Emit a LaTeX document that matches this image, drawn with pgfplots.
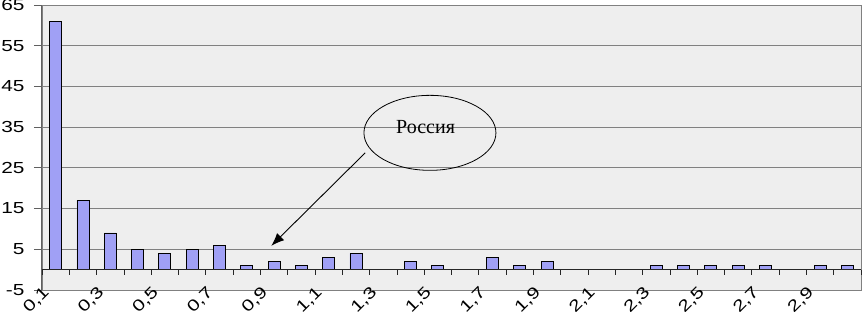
\documentclass[border=0pt]{standalone}
\usepackage{fontspec}
\setmainfont{Liberation Serif}
\newfontfamily\tickfont[FakeStretch=1.3]{Liberation Sans}
\usepackage{pgfplots}
\usepackage{pgfplotstable}
\pgfplotsset{compat=1.18}
\usetikzlibrary{arrows.meta}
\definecolor{barfill}{RGB}{160,160,245}
\definecolor{bg}{RGB}{238,238,238}
\definecolor{gridc}{RGB}{128,128,128}
\definecolor{axc}{RGB}{96,96,96}

\pgfplotstableread{
x y
0.5 61
1.5 17
2.5 9
3.5 5
4.5 4
5.5 5
6.5 6
7.5 1
8.5 2
9.5 1
10.5 3
11.5 4
12.5 0
13.5 2
14.5 1
15.5 0
16.5 3
17.5 1
18.5 2
19.5 0
20.5 0
21.5 0
22.5 1
23.5 1
24.5 1
25.5 1
26.5 1
27.5 0
28.5 1
29.5 1
}\data

\begin{document}
\begin{tikzpicture}
\begin{axis}[
  name=main,
  width=819pt, height=285pt, scale only axis,
  xmin=0, xmax=30, ymin=-5, ymax=65,
  axis background/.style={fill=bg},
  ytick={-5,5,...,65},
  ymajorgrids,
  major grid style={gridc, line width=0.8pt},
  xtick={0,2,...,28},
  xticklabels={{0,1},{0,3},{0,5},{0,7},{0,9},{1,1},{1,3},{1,5},{1,7},{1,9},{2,1},{2,3},{2,5},{2,7},{2,9}},
  x tick style={draw=none},
  xtick pos=bottom, ytick pos=left,
  ytick align=outside,
  y tick style={axc, line width=0.8pt},
  major tick length=8pt,
  xticklabel style={yshift=13pt, rotate=45, anchor=north east, inner sep=0pt},
  yticklabel style={xshift=-6pt},
  tick label style={font=\tickfont\fontsize{16}{18}\selectfont},
  /pgf/number format/assume math mode=true,
  axis line style={gridc, line width=0.8pt},
  ybar, bar width=12pt,
  clip=false,
]
\addplot[fill=barfill, draw=black, line width=0.8pt] table[x=x,y=y]{\data};
\coordinate (bbsw) at ([xshift=-42pt,yshift=-22pt]rel axis cs:0,0);
\coordinate (bbne) at ([xshift=2pt,yshift=5pt]rel axis cs:1,1);
\draw[axc, line width=1pt] (rel axis cs:0,0) -- (rel axis cs:0,1);
\draw[black, line width=0.8pt] (axis cs:14.21,33.6) ellipse [x radius=66pt, y radius=37.5pt];
\node[font=\fontsize{20}{23}\selectfont] at (axis cs:14.05,35.0) {Россия};
\draw[black, line width=0.9pt, -{Latex[length=13pt,width=10pt]}] (axis cs:11.84,28.7) -- (axis cs:8.40,5.85);
\end{axis}
\begin{axis}[
  width=819pt, height=285pt, scale only axis,
  xmin=0, xmax=30, ymin=-5, ymax=65,
  axis x line=middle, axis y line=none,
  xtick={0,1,...,30}, xticklabels={},
  ytick=\empty,
  x axis line style={-, black!85, line width=0.8pt},
  x tick style={black!85, line width=0.8pt},
  xtick align=outside,
  major tick length=5pt,
]
\end{axis}
\pgfresetboundingbox
\path[use as bounding box] (bbsw) rectangle (bbne);
\end{tikzpicture}
\end{document}
